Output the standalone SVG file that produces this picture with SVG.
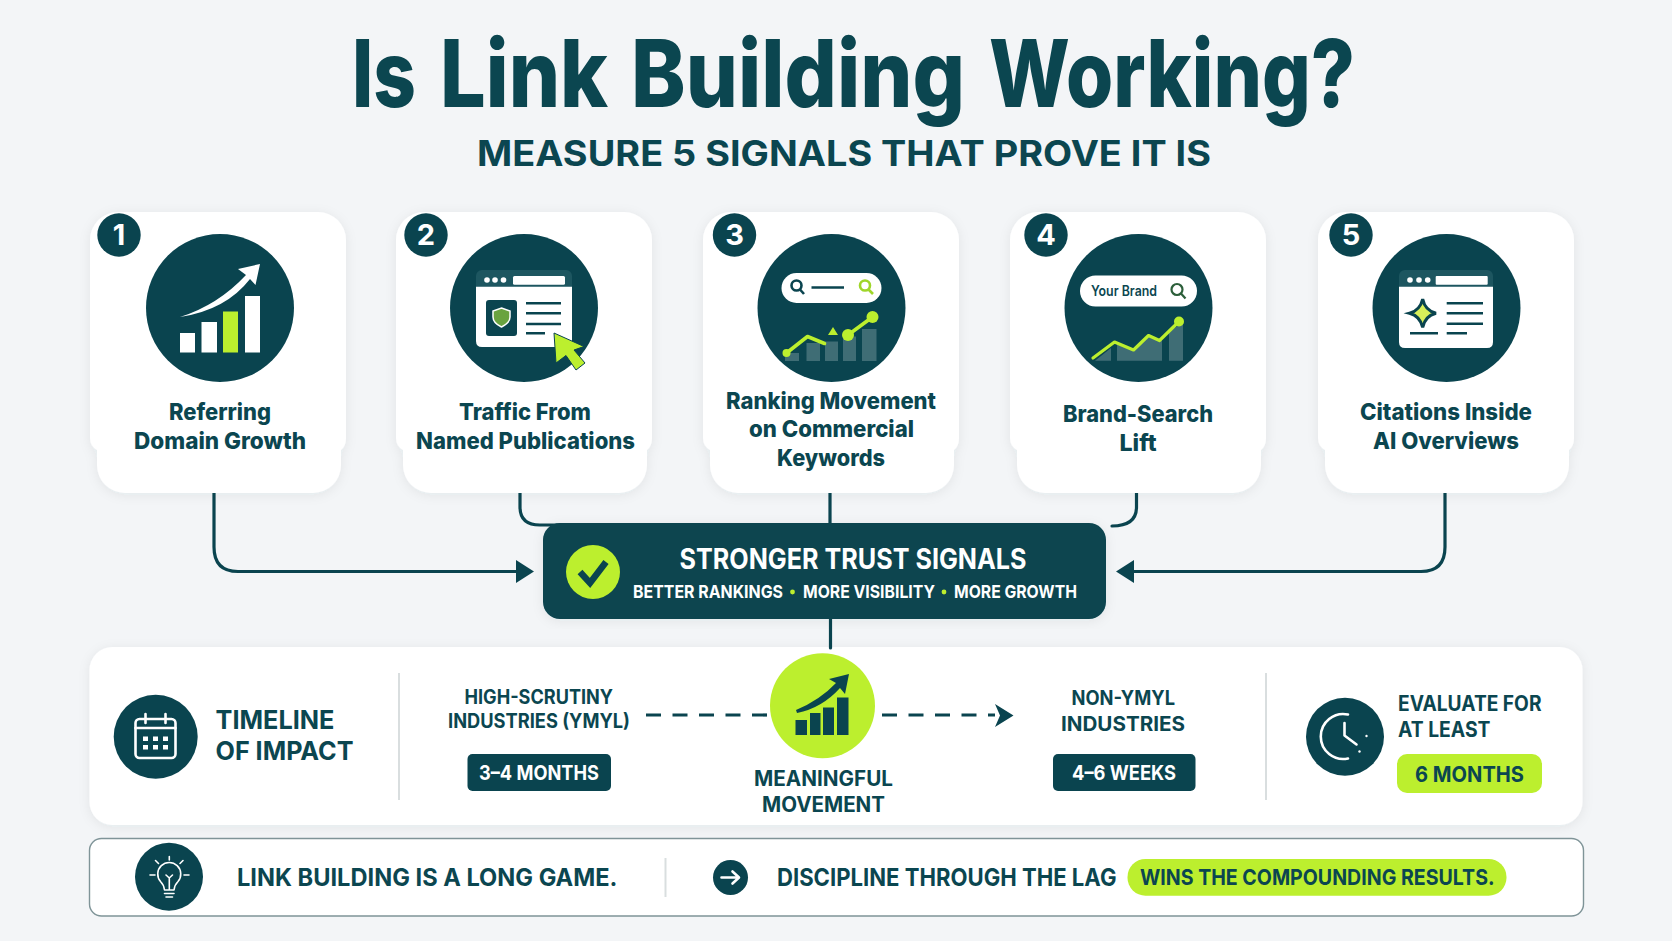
<svg xmlns="http://www.w3.org/2000/svg" width="1672" height="941" viewBox="0 0 1672 941">
<style>
text{font-family:Inter,"Noto Sans","Liberation Sans",sans-serif;font-weight:700;fill:#0b4650}
.w{fill:#fff}
text.w{fill:#fff}
.d{fill:#0a444f}
.l{fill:#bcef2e}
.card{fill:#fff;filter:url(#sh)}
.lab{font-size:23px;font-weight:800}
.con{fill:none;stroke:#0a444f;stroke-width:3.2;stroke-linecap:round}
.dash{fill:none;stroke:#0a444f;stroke-width:3.2;stroke-dasharray:15 11.5}
.ln{stroke:#0a444f;stroke-width:2.6;fill:none}
.si{stroke:#fff;stroke-width:2.6;fill:none;stroke-linecap:round;stroke-linejoin:round}
.bar{fill:#fff;opacity:.22}
</style>
<defs>
<filter id="sh" x="-10%" y="-10%" width="120%" height="120%"><feDropShadow dx="0" dy="2" stdDeviation="6" flood-color="#0a444f" flood-opacity=".07"/></filter>
<path id="cardp" d="M28 0H228A28 28 0 0 1 256 28V226Q256 234 251 238V253A28 28 0 0 1 223 281H35A28 28 0 0 1 7 253V238Q0 234 0 226V28A28 28 0 0 1 28 0Z"/>
</defs>
<rect width="1672" height="941" fill="#f3f5f7"/>

<g id="title">
<text y="107" font-size="93" style="font-weight:800"><tspan x="352" textLength="64" lengthAdjust="spacingAndGlyphs">Is</tspan> <tspan x="440" textLength="168" lengthAdjust="spacingAndGlyphs">Link</tspan> <tspan x="631" textLength="334" lengthAdjust="spacingAndGlyphs">Building</tspan> <tspan x="989" textLength="366" lengthAdjust="spacingAndGlyphs">Working?</tspan></text>
<text x="477" y="166" font-size="35" textLength="734" lengthAdjust="spacingAndGlyphs">MEASURE 5 SIGNALS THAT PROVE IT IS</text>
</g>

<g id="timeline-panel">
<rect x="89.5" y="647" width="1493" height="178" rx="23" class="card"/>
<path stroke="#d9dedf" stroke-width="2" d="M399 673V800M1266 673V800"/>
</g>

<g id="connectors">
<path class="con" d="M214 493V547Q214 571.5 238 571.5H520"/>
<path class="d" d="M516 560L534 571.5L516 583Z"/>
<path class="con" d="M520 493V507Q520 525 540 525H560"/>
<path class="con" d="M830 493V524"/>
<path class="con" d="M1136.5 493V507Q1136.5 526 1112 526"/>
<path class="con" d="M1445 493V547Q1445 571.5 1421 571.5H1130"/>
<path class="d" d="M1134 560L1116 571.5L1134 583Z"/>
<path class="con" d="M830.5 619V648"/>
<path class="dash" d="M646 715H772"/>
<path class="dash" d="M882 715H995"/>
<path class="d" d="M995 704L1013.5 715.5L995 727L1000 715.5Z"/>
</g>

<g id="card-1">
<use href="#cardp" x="90" y="212" class="card"/>
<circle class="d" cx="220" cy="308" r="74"/>
<rect class="w" x="180" y="333" width="15" height="19.5"/>
<rect class="w" x="201.5" y="322" width="15.5" height="30.5"/>
<rect class="l" x="223" y="311.5" width="15" height="41"/>
<rect class="w" x="245" y="296" width="15" height="56.5"/>
<path class="w" d="M180 317Q218 305 246 275L238 269L260 264L255.5 285L250 279Q226 310 180 317Z"/>
<circle class="d" cx="119" cy="235" r="21.7"/>
<text class="w" x="119" y="245" font-size="29" text-anchor="middle">1</text>
<text class="lab" x="169" y="420" textLength="102" lengthAdjust="spacingAndGlyphs">Referring</text>
<text class="lab" x="134" y="449" textLength="172" lengthAdjust="spacingAndGlyphs">Domain Growth</text>
</g>

<g id="card-2">
<use href="#cardp" x="396" y="212" class="card"/>
<circle class="d" cx="524" cy="308" r="74"/>
<rect x="476" y="270" width="96" height="30" rx="6" fill="#1d5660"/>
<path class="w" d="M476 286.7H572V341Q572 347 566 347H482Q476 347 476 341Z"/>
<circle class="w" cx="487" cy="280" r="2.8"/><circle class="w" cx="495" cy="280" r="2.8"/><circle class="w" cx="503.5" cy="280" r="2.8"/>
<rect class="w" x="513" y="276" width="52" height="8.7" rx="1.5"/>
<rect class="d" x="486" y="300" width="31" height="36" rx="3"/>
<path d="M501.5 308L510 311V317Q510 323 501.5 327Q493 323 493 317V311Z" fill="#6aa33f" stroke="#fff" stroke-width="1.5"/>
<path class="ln" d="M526 303.3H561M526 313.3H561M526 324H561M526 333.3H545"/>
<path class="l" stroke="#0a444f" stroke-width="1" d="M554 333L556 363L566 355.5L576 370L585 363L574 350L584 346.5Z"/>
<circle class="d" cx="426" cy="235" r="21.7"/>
<text class="w" x="426" y="245" font-size="29" text-anchor="middle">2</text>
<text class="lab" x="459" y="420" textLength="132" lengthAdjust="spacingAndGlyphs">Traffic From</text>
<text class="lab" x="416" y="449" textLength="219" lengthAdjust="spacingAndGlyphs">Named Publications</text>
</g>

<g id="card-3">
<use href="#cardp" x="703" y="212" class="card"/>
<circle class="d" cx="831.5" cy="308" r="74"/>
<rect class="w" x="781.5" y="273" width="100" height="30" rx="15"/>
<circle cx="796.5" cy="285.5" r="5" class="ln"/><path class="ln" d="M800 289.5L804 294"/>
<path class="ln" d="M811.5 287.5H844"/>
<circle cx="865" cy="285.5" r="5" fill="none" stroke="#9fd62a" stroke-width="2.6"/><path stroke="#9fd62a" stroke-width="2.6" d="M868.5 289.5L873 294"/>
<rect class="bar" x="785" y="353" width="14" height="8"/>
<rect class="bar" x="806.5" y="343" width="13.5" height="18"/>
<rect class="bar" x="825" y="341.5" width="13" height="19.5"/>
<rect class="bar" x="843" y="336.5" width="13" height="24.5"/>
<rect class="bar" x="862" y="329" width="14.5" height="32"/>
<path d="M786.5 353L807.5 336.5L824.5 343.5M848 335L872.5 317" fill="none" stroke="#bcef2e" stroke-width="3.6" stroke-linecap="round" stroke-linejoin="round"/>
<circle class="l" cx="786.5" cy="353" r="4"/><circle class="l" cx="848" cy="335" r="6"/><circle class="l" cx="872.5" cy="317" r="6"/>
<path class="l" d="M833 327L838 335H828Z"/>
<circle class="d" cx="734.5" cy="235" r="21.7"/>
<text class="w" x="734.5" y="245" font-size="29" text-anchor="middle">3</text>
<text class="lab" x="726" y="409" textLength="210" lengthAdjust="spacingAndGlyphs">Ranking Movement</text>
<text class="lab" x="749" y="437" textLength="165" lengthAdjust="spacingAndGlyphs">on Commercial</text>
<text class="lab" x="777" y="466" textLength="108" lengthAdjust="spacingAndGlyphs">Keywords</text>
</g>

<g id="card-4">
<use href="#cardp" x="1010" y="212" class="card"/>
<circle class="d" cx="1138.5" cy="308" r="74"/>
<rect class="w" x="1080" y="275.5" width="117" height="31" rx="15.5"/>
<text x="1091" y="296" font-size="14" textLength="66" lengthAdjust="spacingAndGlyphs" style="font-weight:600">Your Brand</text>
<circle cx="1177" cy="289.5" r="5.5" fill="none" stroke="#2c5f3a" stroke-width="2.2"/><path stroke="#2c5f3a" stroke-width="2.2" d="M1181 293.5L1185.5 298.5"/>
<path class="bar" d="M1095 360.7L1111 348V360.7ZM1117 360.7V342L1134 350L1148 336L1159 341L1162 338V360.7ZM1169 360.7V332L1183 322V360.7Z"/>
<path d="M1093 358L1114.5 342L1133.5 350L1148.5 335.5L1159.5 340.5L1179 321.5" fill="none" stroke="#bcef2e" stroke-width="3.2" stroke-linejoin="round" stroke-linecap="round"/>
<circle class="l" cx="1179" cy="321.5" r="5"/>
<circle class="d" cx="1046" cy="235" r="21.7"/>
<text class="w" x="1046" y="245" font-size="29" text-anchor="middle">4</text>
<text class="lab" x="1063" y="422" textLength="150" lengthAdjust="spacingAndGlyphs">Brand-Search</text>
<text class="lab" x="1119.5" y="451" textLength="37" lengthAdjust="spacingAndGlyphs">Lift</text>
</g>

<g id="card-5">
<use href="#cardp" x="1318" y="212" class="card"/>
<circle class="d" cx="1446.5" cy="308" r="74"/>
<rect x="1399" y="270" width="94" height="30" rx="6" fill="#1d5660"/>
<path class="w" d="M1399 286.7H1493V342Q1493 348 1487 348H1405Q1399 348 1399 342Z"/>
<circle class="w" cx="1410" cy="280" r="2.8"/><circle class="w" cx="1419" cy="280" r="2.8"/><circle class="w" cx="1427.7" cy="280" r="2.8"/>
<rect class="w" x="1435.7" y="276" width="52" height="8.7" rx="1"/>
<path d="M1422.7 299Q1425 310.5 1436 313.3Q1425 316 1422.7 327.5Q1420 316 1409.5 313.3Q1420 310.5 1422.7 299Z" fill="#d8f05a" stroke="#0a444f" stroke-width="3"/>
<path class="ln" d="M1446.7 303.3H1483M1446.7 313.3H1483M1446.7 323.7H1483M1446.7 333.3H1467M1410 333.3H1438"/>
<circle class="d" cx="1351" cy="235" r="21.7"/>
<text class="w" x="1351" y="245" font-size="29" text-anchor="middle">5</text>
<text class="lab" x="1360" y="420" textLength="172" lengthAdjust="spacingAndGlyphs">Citations Inside</text>
<text class="lab" x="1373" y="449" textLength="146" lengthAdjust="spacingAndGlyphs">AI Overviews</text>
</g>

<g id="trust-box">
<rect x="543" y="523" width="563" height="96" rx="17" class="d" filter="url(#sh)"/>
<circle class="l" cx="593" cy="572" r="27"/>
<path d="M580 572L590 583L606 562" fill="none" stroke="#0a444f" stroke-width="6.5"/>
<text class="w" x="679.5" y="569" font-size="28" textLength="347" lengthAdjust="spacingAndGlyphs">STRONGER TRUST SIGNALS</text>
<text class="w" x="633" y="598" font-size="18" textLength="150" lengthAdjust="spacingAndGlyphs">BETTER RANKINGS</text>
<circle class="l" cx="792.5" cy="592" r="2.4"/>
<text class="w" x="803" y="598" font-size="18" textLength="132" lengthAdjust="spacingAndGlyphs">MORE VISIBILITY</text>
<circle class="l" cx="944" cy="592" r="2.4"/>
<text class="w" x="954" y="598" font-size="18" textLength="123" lengthAdjust="spacingAndGlyphs">MORE GROWTH</text>
</g>

<g id="timeline-title">
<circle class="d" cx="155.7" cy="736.7" r="42"/>
<rect class="si" x="135.5" y="719" width="40" height="39" rx="4"/>
<path class="si" d="M145.5 714V723M165.5 714V723M135.5 728H175.5"/>
<g class="w"><rect x="143" y="736.5" width="5" height="4.5"/><rect x="153" y="736.5" width="5" height="4.5"/><rect x="163" y="736.5" width="5" height="4.5"/><rect x="143" y="745" width="5" height="4.5"/><rect x="153" y="745" width="5" height="4.5"/><rect x="163" y="745" width="5" height="4.5"/></g>
<text x="215.5" y="729" font-size="25.5" textLength="119" lengthAdjust="spacingAndGlyphs">TIMELINE</text>
<text x="215.5" y="760" font-size="25.5" textLength="138" lengthAdjust="spacingAndGlyphs">OF IMPACT</text>
</g>

<g id="ymyl">
<text x="464.5" y="704" font-size="19.5" textLength="148.5" lengthAdjust="spacingAndGlyphs">HIGH-SCRUTINY</text>
<text x="448" y="728" font-size="19.5" textLength="182" lengthAdjust="spacingAndGlyphs">INDUSTRIES (YMYL)</text>
<rect class="d" x="467.5" y="754" width="143.5" height="37" rx="5"/>
<text class="w" x="479" y="780" font-size="20.5" textLength="120" lengthAdjust="spacingAndGlyphs">3–4 MONTHS</text>
</g>

<g id="meaningful-movement">
<circle class="l" cx="822.5" cy="705.7" r="52.5"/>
<rect class="d" x="795.5" y="720" width="11.5" height="15"/>
<rect class="d" x="810" y="713" width="10.5" height="22"/>
<rect class="d" x="823" y="707.5" width="11" height="27.5"/>
<rect class="d" x="837" y="697.5" width="11.5" height="37.5"/>
<path class="d" d="M796 710Q820 700 836 683L829 679L849 674L845 694L840 688Q822 708 797 713Z"/>
<text x="754" y="785.7" font-size="21" textLength="139" lengthAdjust="spacingAndGlyphs">MEANINGFUL</text>
<text x="762" y="811.7" font-size="21" textLength="123" lengthAdjust="spacingAndGlyphs">MOVEMENT</text>
</g>

<g id="non-ymyl">
<text x="1071.5" y="705" font-size="19.5" textLength="103.5" lengthAdjust="spacingAndGlyphs">NON-YMYL</text>
<text x="1061" y="730.5" font-size="19.5" textLength="124" lengthAdjust="spacingAndGlyphs">INDUSTRIES</text>
<rect class="d" x="1053" y="754" width="142.5" height="37" rx="5"/>
<text class="w" x="1072" y="780" font-size="20.5" textLength="104" lengthAdjust="spacingAndGlyphs">4–6 WEEKS</text>
</g>

<g id="evaluate">
<circle class="d" cx="1345" cy="736.7" r="39"/>
<path class="si" d="M1348 714.5A22.5 22.5 0 1 0 1348 758.5" stroke-width="2.2"/>
<path class="si" d="M1344.5 723V735.5L1356.5 744.5" stroke-width="2.6"/>
<circle class="w" cx="1366.5" cy="736" r="1.2"/><circle class="w" cx="1359.5" cy="751.5" r="1.2"/>
<text x="1398" y="711" font-size="21" textLength="143.5" lengthAdjust="spacingAndGlyphs">EVALUATE FOR</text>
<text x="1398" y="736.7" font-size="21" textLength="92.5" lengthAdjust="spacingAndGlyphs">AT LEAST</text>
<rect class="l" x="1397" y="754" width="145" height="39" rx="10"/>
<text x="1415" y="781.7" font-size="22" textLength="109" lengthAdjust="spacingAndGlyphs">6 MONTHS</text>
</g>

<g id="bottom-bar">
<rect x="89.5" y="838.5" width="1494" height="77.5" rx="12" fill="#fff" stroke="#7f9498" stroke-width="1.4"/>
<circle class="d" cx="169" cy="876.7" r="34"/>
<path class="si" style="stroke-width:1.6" d="M164.5 890Q164 885 160.5 881.5A11.5 11.5 0 1 1 178 881.5Q174.5 885 174 890ZM164.5 893.5H174M166 897H172.5M169.3 889V878M169.3 878L166 875M169.3 878L172.5 875M169.3 856.5V860M150 875H155M184 875H189M155.5 860.5L158.5 863.5M183 860.5L180 863.5"/>
<text x="237" y="886" font-size="24.5" textLength="380.5" lengthAdjust="spacingAndGlyphs">LINK BUILDING IS A LONG GAME.</text>
<path stroke="#d9dedf" stroke-width="2" d="M665.5 858V897"/>
<circle class="d" cx="730.5" cy="877.5" r="17.5"/>
<path class="si" d="M721.5 877.5H738.5M732.5 871.5L739 877.5L732.5 883.5"/>
<text x="777" y="886" font-size="24.5" textLength="339.5" lengthAdjust="spacingAndGlyphs">DISCIPLINE THROUGH THE LAG</text>
<rect class="l" x="1127.5" y="859" width="379" height="36.7" rx="18"/>
<text x="1140" y="885" font-size="22" textLength="354.5" lengthAdjust="spacingAndGlyphs">WINS THE COMPOUNDING RESULTS.</text>
</g>
</svg>
